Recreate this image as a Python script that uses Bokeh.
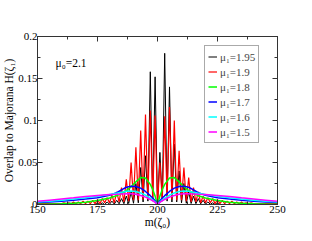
from bokeh.plotting import figure
from bokeh.models import LinearAxis, FixedTicker, Range1d, Legend, LegendItem
from bokeh.core.properties import value
from bokeh.embed import file_html
from bokeh.resources import INLINE

# ---------------- data ----------------
x_ticks = [150, 175, 200, 225, 250]
x_minor = [162.5, 187.5, 212.5, 237.5]
y_ticks = [0, 0.05, 0.1, 0.15, 0.2]
y_minor = [0.025, 0.075, 0.125, 0.175]
y_tick_labels = ["0", "0.05", "0.1", "0.15", "0.2"]

series_labels = ["μ₁=1.95", "μ₁=1.9", "μ₁=1.8", "μ₁=1.7", "μ₁=1.6", "μ₁=1.5"]
series_colors = ["#000000", "#ff0000", "#00ff00", "#0000ff", "#00ffff", "#ff00ff"]

annot_text = ["μ₀=2.1"]
annot_x = [157.5]
annot_y = [0.161]

# mu1 = 1.95 (per site)
m_black = [150, 174, 175, 176, 177, 178, 179, 180, 181, 182, 183, 184, 185, 186, 187, 188, 189,
           190, 191, 192, 193, 194, 195, 196, 197, 198, 199, 200, 201, 202, 203, 204, 205,
           206, 207, 208, 209, 210, 211, 212, 213, 214, 215, 216, 217, 218, 219, 220, 221,
           222, 223, 224, 225, 226, 250]
h_black = [0.0, 0.0, 0.0015, 0.0, 0.002, 0.0, 0.003, 0.0003, 0.004, 0.0005, 0.005, 0.0008, 0.007,
           0.001, 0.01, 0.0012, 0.015, 0.0015, 0.025, 0.002, 0.044, 0.003, 0.058, 0.004, 0.158,
           0.004, 0.152, 0.0, 0.062, 0.004, 0.18, 0.004, 0.14, 0.003, 0.072, 0.003, 0.04,
           0.002, 0.025, 0.0015, 0.015, 0.0012, 0.01, 0.001, 0.007, 0.0008, 0.005, 0.0005,
           0.003, 0.0003, 0.002, 0.0, 0.0015, 0.0, 0.0]

# mu1 = 1.9 (per site)
m_red = [150, 160, 161, 162, 163, 164, 165, 166, 167, 168, 169, 170, 171, 172, 173, 174, 175,
         176, 177, 178, 179, 180, 181, 182, 183, 184, 185, 186, 187, 188, 189, 190, 191,
         192, 193, 194, 195, 196, 197, 198, 199, 200, 201, 202, 203, 204, 205, 206, 207,
         208, 209, 210, 211, 212, 213, 214, 215, 216, 217, 218, 219, 220, 221, 222, 223,
         224, 225, 226, 227, 228, 229, 230, 231, 232, 233, 234, 235, 236, 237, 238, 239,
         240, 250]
h_red = [0.001, 0.001, 0.002, 0.001, 0.002, 0.001, 0.003, 0.001, 0.003, 0.001, 0.004, 0.001,
         0.004, 0.001, 0.005, 0.001, 0.006, 0.001, 0.007, 0.002, 0.008, 0.002, 0.011, 0.002,
         0.015, 0.003, 0.02, 0.003, 0.03, 0.004, 0.05, 0.005, 0.068, 0.005, 0.088, 0.006,
         0.107, 0.006, 0.112, 0.005, 0.106, 0.0, 0.05, 0.005, 0.105, 0.006, 0.116, 0.006,
         0.1, 0.005, 0.064, 0.005, 0.044, 0.004, 0.032, 0.003, 0.02, 0.003, 0.015, 0.002,
         0.01, 0.002, 0.008, 0.002, 0.007, 0.001, 0.006, 0.001, 0.005, 0.001, 0.004, 0.001,
         0.004, 0.001, 0.003, 0.001, 0.003, 0.001, 0.002, 0.001, 0.002, 0.001, 0.001]

# smooth curves
m_smooth = [150, 155, 160, 165, 170, 175, 180, 183, 185, 187, 189, 191, 193, 195, 197, 198,
            199, 200, 201, 202, 203, 205, 207, 209, 211, 213, 215, 217, 220, 225, 230, 235,
            240, 245, 250]
h_green = [0.0003, 0.0005, 0.0009, 0.0015, 0.0027, 0.0048, 0.0078, 0.0105, 0.013, 0.0165,
           0.021, 0.027, 0.032, 0.0315, 0.024, 0.018, 0.01, 0.0, 0.01, 0.018, 0.024, 0.0315,
           0.032, 0.027, 0.021, 0.0165, 0.013, 0.0105, 0.0078, 0.0048, 0.0027, 0.0015,
           0.0009, 0.0005, 0.0003]
h_blue = [0.0025, 0.003, 0.004, 0.005, 0.0065, 0.008, 0.011, 0.014, 0.0175, 0.0205, 0.0218,
          0.0215, 0.0195, 0.0155, 0.0105, 0.0078, 0.0045, 0.0, 0.0045, 0.0078, 0.0105, 0.0155,
          0.0195, 0.0215, 0.0218, 0.0205, 0.0175, 0.014, 0.011, 0.008, 0.0065, 0.005, 0.004,
          0.003, 0.0025]
h_cyan = [0.003, 0.004, 0.005, 0.0065, 0.008, 0.0099, 0.012, 0.0135, 0.0145, 0.0158, 0.016,
          0.0155, 0.0138, 0.011, 0.0075, 0.0055, 0.003, 0.0, 0.003, 0.0055, 0.0075, 0.011,
          0.0138, 0.0155, 0.016, 0.0158, 0.0145, 0.0135, 0.012, 0.0099, 0.008, 0.0065, 0.005,
          0.004, 0.003]
h_magenta = [0.0038, 0.0052, 0.0066, 0.008, 0.0095, 0.0108, 0.0118, 0.0122, 0.0125, 0.0128,
             0.0128, 0.0122, 0.0108, 0.0088, 0.006, 0.0045, 0.0025, 0.0, 0.0025, 0.0045, 0.006,
             0.0088, 0.0108, 0.0122, 0.0128, 0.0128, 0.0125, 0.0122, 0.0118, 0.0108, 0.0095,
             0.008, 0.0066, 0.0052, 0.0038]

FONT = "Liberation Serif"

p = figure(width=304, height=233, output_backend="svg", toolbar_location=None,
           x_range=Range1d(150, 250), y_range=Range1d(0, 0.2),
           min_border_left=37, min_border_right=27, min_border_top=36, min_border_bottom=29)
p.xgrid.visible = False
p.ygrid.visible = False
p.outline_line_color = "#333333"
p.background_fill_color = "white"
p.border_fill_color = "white"

renderers = []
r = p.line(m_black, h_black, color=series_colors[0], line_width=1)
renderers.append(r)
r = p.line(m_red, h_red, color=series_colors[1], line_width=1.2)
renderers.append(r)
for h, c in zip([h_green, h_blue, h_cyan, h_magenta], series_colors[2:]):
    r = p.line(m_smooth, h, color=c, line_width=1.5)
    renderers.append(r)

def style_axis(ax):
    ax.axis_line_color = "#333333"
    ax.major_tick_line_color = "#333333"
    ax.minor_tick_line_color = "#333333"
    ax.major_tick_in = 5
    ax.major_tick_out = 0
    ax.minor_tick_in = 3
    ax.minor_tick_out = 0
    ax.major_label_text_font = FONT
    ax.major_label_text_font_size = "11px"
    ax.major_label_text_color = "black"
    ax.axis_label_text_font = FONT
    ax.axis_label_text_font_size = "11.5px"
    ax.axis_label_text_font_style = "normal"
    ax.axis_label_text_color = "black"
    ax.major_label_standoff = 1

p.xaxis.ticker = FixedTicker(ticks=x_ticks, minor_ticks=x_minor)
p.yaxis.ticker = FixedTicker(ticks=y_ticks, minor_ticks=y_minor)
style_axis(p.xaxis[0])
style_axis(p.yaxis[0])
p.xaxis.axis_label = "m(ζ₀)"
p.yaxis.axis_label = "Overlap to Majorana H(ζ₁)"
p.xaxis.axis_label_standoff = 0
p.yaxis.axis_label_standoff = 0
p.yaxis.major_label_standoff = 0
p.yaxis.major_label_overrides = {t: s for t, s in zip(y_ticks, y_tick_labels)}

top = LinearAxis(ticker=FixedTicker(ticks=x_ticks, minor_ticks=x_minor))
style_axis(top)
top.major_label_overrides = {t: "" for t in x_ticks}
top.major_label_standoff = 0
p.add_layout(top, "above")
right = LinearAxis(ticker=FixedTicker(ticks=y_ticks, minor_ticks=y_minor))
style_axis(right)
right.major_label_overrides = {t: "" for t in y_ticks}
right.major_label_standoff = 0
p.add_layout(right, "right")

p.text(x=annot_x, y=annot_y, text=annot_text, text_font=value(FONT),
       text_font_size="11.5px", text_color="black", text_baseline="bottom", text_align="left")

legend = Legend(items=[LegendItem(label=l, renderers=[r]) for l, r in zip(series_labels, renderers)],
                location=(167, 61))
legend.margin = 0
legend.padding = 3
legend.spacing = 0
legend.label_height = 15
legend.glyph_height = 15
legend.glyph_width = 9
legend.label_standoff = 3
legend.label_text_font = FONT
legend.label_text_font_size = "11px"
legend.border_line_color = "#555555"
legend.border_line_width = 1
legend.background_fill_alpha = 1
p.add_layout(legend, "center")

open("out.html", "w").write(file_html(p, INLINE))
